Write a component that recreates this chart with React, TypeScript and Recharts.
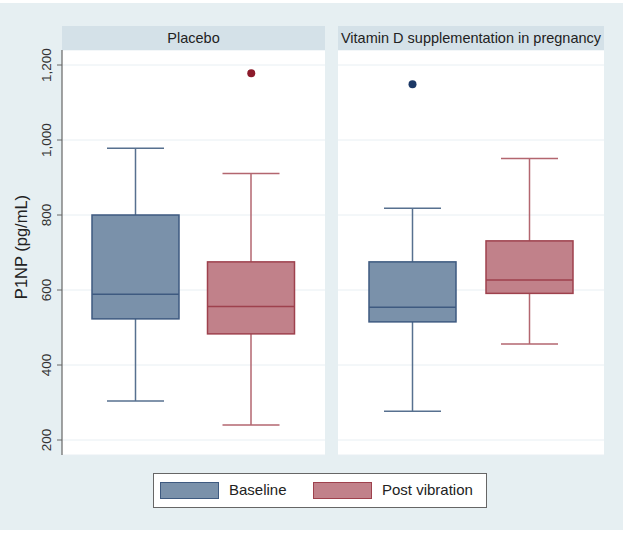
import React from "react";
import { ComposedChart, Bar, Scatter, XAxis, YAxis, CartesianGrid } from "recharts";

// box plot summaries (pg/mL)
const groups = ["Baseline", "Post vibration"];
const placeboMin = [304, 240];
const placeboQ1 = [523, 483];
const placeboMedian = [589, 556];
const placeboQ3 = [800, 675];
const placeboMax = [978, 911];
const placeboOutliers = [null, 1178];

const vitDMin = [277, 456];
const vitDQ1 = [515, 591];
const vitDMedian = [554, 627];
const vitDQ3 = [675, 731];
const vitDMax = [818, 951];
const vitDOutliers = [1149, null];

const yTicks = [200, 400, 600, 800, 1000, 1200];

const FONT = "'Liberation Sans', Arial, sans-serif";

const palette: Record<string, { fill: string; stroke: string; whisker: string; dot: string }> = {
  Baseline: { fill: "#7a91aa", stroke: "#3e5a80", whisker: "#57708f", dot: "#1c3866" },
  "Post vibration": { fill: "#c1818a", stroke: "#9e414d", whisker: "#b3666f", dot: "#8c1b2b" },
};

const build = (mins: number[], q1: number[], med: number[], q3: number[], maxs: number[], outs: (number | null)[]) =>
  groups.map((g, i) => ({
    group: g,
    min: mins[i],
    q1: q1[i],
    median: med[i],
    q3: q3[i],
    max: maxs[i],
    outlier: outs[i],
  }));

const placeboData = build(placeboMin, placeboQ1, placeboMedian, placeboQ3, placeboMax, placeboOutliers);
const vitDData = build(vitDMin, vitDQ1, vitDMedian, vitDQ3, vitDMax, vitDOutliers);

const BoxShape = (props: any) => {
  const { x, y, width, height, payload } = props;
  const top = Math.min(y, y + height);
  const h = Math.abs(height);
  const k = h / (payload.q3 - payload.q1);
  const toY = (v: number) => top + (payload.q3 - v) * k;
  const cx = x + width / 2;
  const cap = 57;
  const c = palette[payload.group];
  return (
    <g>
      <line x1={cx} x2={cx} y1={toY(payload.max)} y2={top} stroke={c.whisker} strokeWidth={1.5} />
      <line x1={cx} x2={cx} y1={top + h} y2={toY(payload.min)} stroke={c.whisker} strokeWidth={1.5} />
      <line x1={cx - cap / 2} x2={cx + cap / 2} y1={toY(payload.max)} y2={toY(payload.max)} stroke={c.whisker} strokeWidth={1.5} />
      <line x1={cx - cap / 2} x2={cx + cap / 2} y1={toY(payload.min)} y2={toY(payload.min)} stroke={c.whisker} strokeWidth={1.5} />
      <rect x={x} y={top} width={width} height={h} fill={c.fill} stroke={c.stroke} strokeWidth={1.5} />
      <line x1={x} x2={x + width} y1={toY(payload.median)} y2={toY(payload.median)} stroke={c.stroke} strokeWidth={1.5} />
    </g>
  );
};

const Dot = (props: any) => {
  const { cx, cy, payload } = props;
  if (payload.outlier == null) return null;
  return <circle cx={cx} cy={cy} r={4} fill={palette[payload.group].dot} />;
};

const VTick = ({ x, y, payload }: any) => (
  <text
    x={x - 4}
    y={y}
    transform={`rotate(-90, ${x - 4}, ${y})`}
    textAnchor="middle"
    fill="#333"
    fontSize={13.5}
    fontFamily={FONT}
  >
    {payload.value.toLocaleString("en-US")}
  </text>
);

const Panel: React.FC<{ data: any[]; showY: boolean; width: number }> = ({ data, showY, width }) => (
  <ComposedChart width={width} height={459} data={data} margin={{ top: 50, right: 0, bottom: 4, left: 0 }}>
    <CartesianGrid vertical={false} stroke="#e8eff3" fill="#ffffff" />
    <XAxis
      dataKey="group"
      tick={false}
      tickLine={false}
      height={0}
      axisLine={{ stroke: "#5a5a5a", strokeWidth: 1.5 }}
      padding={{ left: 16, right: 16 }}
    />
    <YAxis
      domain={[160, 1240]}
      ticks={yTicks}
      hide={!showY}
      width={62}
      axisLine={{ stroke: "#666", strokeWidth: 1.2 }}
      tickLine={{ stroke: "#666" }}
      tickSize={5}
      tick={<VTick />}
      allowDataOverflow
    />
    <Bar dataKey={(d: any) => [d.q1, d.q3]} barSize={87} shape={<BoxShape />} isAnimationActive={false} />
    <Scatter dataKey="outlier" shape={<Dot />} isAnimationActive={false} />
  </ComposedChart>
);

const Header: React.FC<{ left: number; width: number; text: string }> = ({ left, width, text }) => (
  <div
    style={{
      position: "absolute",
      left,
      top: 26,
      width,
      height: 24,
      background: "#d4e1e8",
      fontFamily: FONT,
      fontSize: 14.5,
      color: "#222",
      textAlign: "center",
      lineHeight: "24px",
      whiteSpace: "nowrap",
      overflow: "visible",
    }}
  >
    {text}
  </div>
);

const Swatch: React.FC<{ left: number; g: string }> = ({ left, g }) => (
  <div
    style={{
      position: "absolute",
      left,
      top: 8,
      width: 57,
      height: 15,
      background: palette[g].fill,
      border: `1.5px solid ${palette[g].stroke}`,
    }}
  />
);

export default function App() {
  return (
    <div style={{ position: "absolute", left: 0, top: 0, width: 626, height: 535, background: "#fff" }}>
      <div style={{ position: "absolute", left: 0, top: 3, width: 623, height: 527, background: "#e6eff2" }} />
      <div style={{ position: "absolute", left: 0, top: 0 }}>
        <Panel data={placeboData} showY width={325} />
      </div>
      <div style={{ position: "absolute", left: 338, top: 0 }}>
        <Panel data={vitDData} showY={false} width={266} />
      </div>
      <Header left={62} width={263} text="Placebo" />
      <Header left={338} width={266} text="Vitamin D supplementation in pregnancy" />
      <div
        style={{
          position: "absolute",
          left: 21,
          top: 247,
          transform: "translate(-50%, -50%) rotate(-90deg)",
          fontFamily: FONT,
          fontSize: 16.5,
          color: "#222",
          whiteSpace: "nowrap",
        }}
      >
        P1NP (pg/mL)
      </div>
      <div
        style={{
          position: "absolute",
          left: 153,
          top: 473,
          width: 332,
          height: 33,
          background: "#fff",
          border: "1px solid #666",
          fontFamily: FONT,
          fontSize: 15,
          color: "#222",
        }}
      >
        <Swatch left={6} g="Baseline" />
        <span style={{ position: "absolute", left: 75, top: 7 }}>Baseline</span>
        <Swatch left={159} g="Post vibration" />
        <span style={{ position: "absolute", left: 228, top: 7 }}>Post vibration</span>
      </div>
    </div>
  );
}
